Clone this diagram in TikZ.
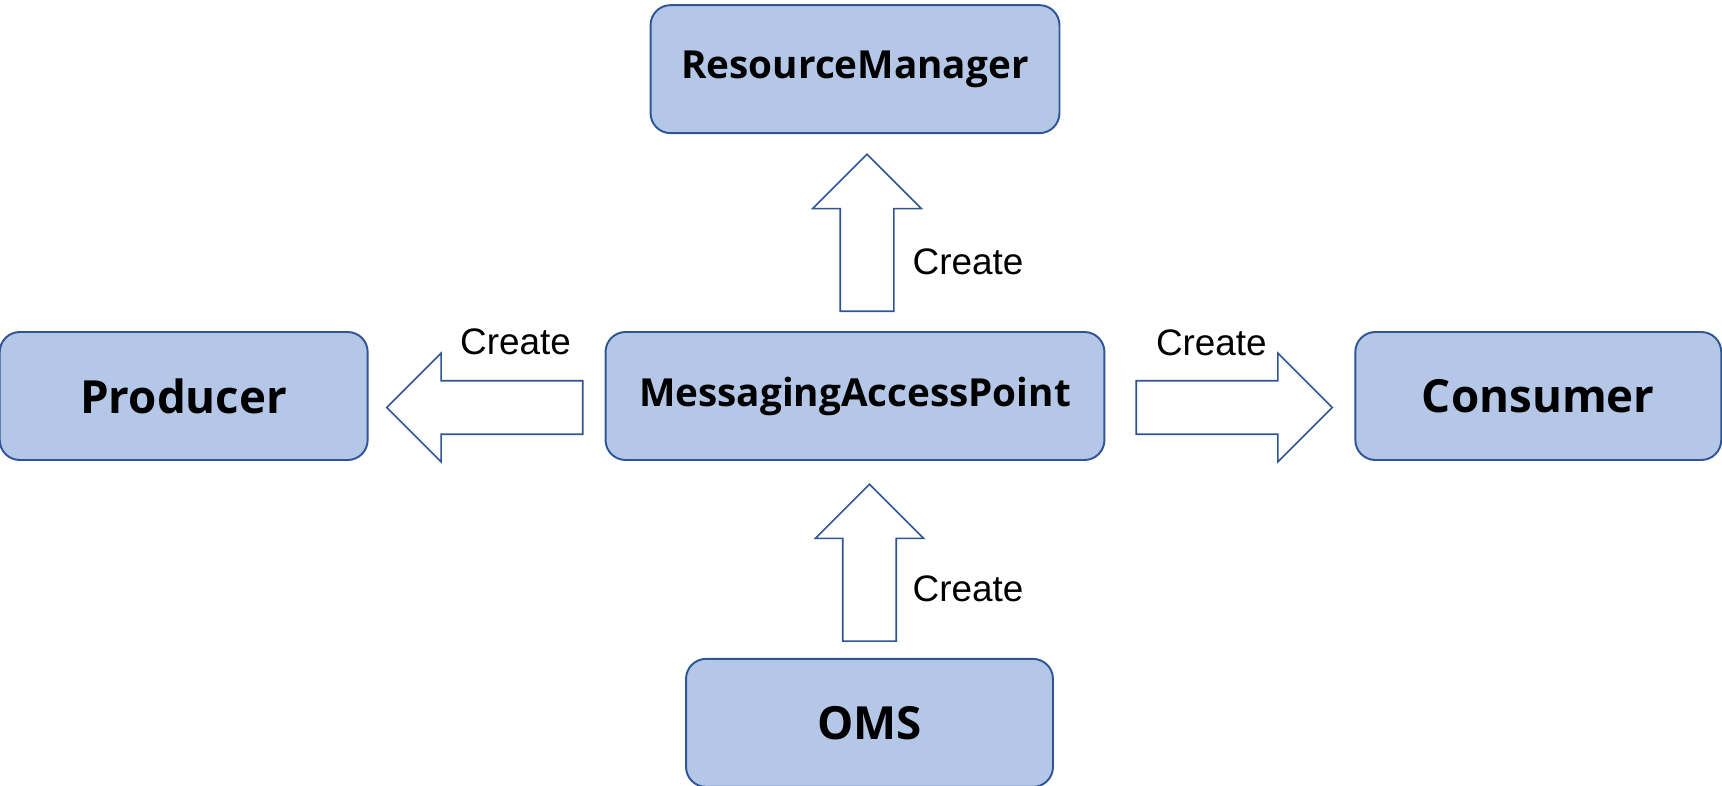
\documentclass[tikz,border=0pt]{standalone}
\usepackage{fontspec}
\setmainfont{Liberation Sans}
\newfontfamily\boxfont{Open Sans}
\usetikzlibrary{shapes.arrows, positioning}
\definecolor{boxfill}{HTML}{B4C7E7}
\definecolor{boxline}{HTML}{2F5597}

\begin{document}
\begin{tikzpicture}[x=0.02cm,y=-0.02cm, b/.style={rectangle,draw=boxline,fill=boxfill,line width=1.1pt,rounded corners=0.4cm,minimum height=2.56cm,inner sep=0pt,font=\boxfont\bfseries\fontsize{22}{26}\selectfont}, bb/.style={b,font=\boxfont\bfseries\fontsize{26}{30}\selectfont}, ar/.style={single arrow,draw=boxline,fill=white,line width=0.9pt,minimum width=0pt,inner sep=0.52cm,single arrow head extend=0.55cm,single arrow tip angle=90}, lbl/.style={inner sep=0pt,font=\fontsize{21}{25}\selectfont}]
  \useasboundingbox (0,0) rectangle (1722,785);
  \node[b,minimum width=9.98cm] (map) at (855,396) {MessagingAccessPoint};
  \node[b,minimum width=8.18cm,above=3.94cm of map] (rm) {ResourceManager};
  \node[bb,minimum width=7.36cm,left=4.72cm of map] (prod) {Producer};
  \node[bb,minimum width=7.32cm,right=4.98cm of map] (cons) {Consumer};
  \node[bb,minimum width=7.34cm,below=3.94cm of map,xshift=0.29cm] (oms) {OMS};
  % block arrows
  \node[ar,minimum height=3.14cm,shape border rotate=90,above=0.38cm of map,xshift=0.24cm] (atop) {};
  \node[ar,minimum height=3.14cm,shape border rotate=90,above=0.32cm of oms] (abot) {};
  \node[ar,minimum height=3.92cm,shape border rotate=180,left=0.42cm of map,yshift=-0.23cm] (aleft) {};
  \node[ar,minimum height=3.92cm,right=0.6cm of map,yshift=-0.23cm] (aright) {};
  % labels
  \node[lbl] (ctop) at ([xshift=2.26cm,yshift=1.38cm]map.north) {Create};
  \node[lbl] (cbot) at ([xshift=2.26cm,yshift=-2.56cm]map.south) {Create};
  \node[lbl] (cleft) at ([xshift=-1.78cm,yshift=1.08cm]map.west) {Create};
  \node[lbl] (cright) at ([xshift=2.12cm,yshift=1.06cm]map.east) {Create};
\end{tikzpicture}
\end{document}
